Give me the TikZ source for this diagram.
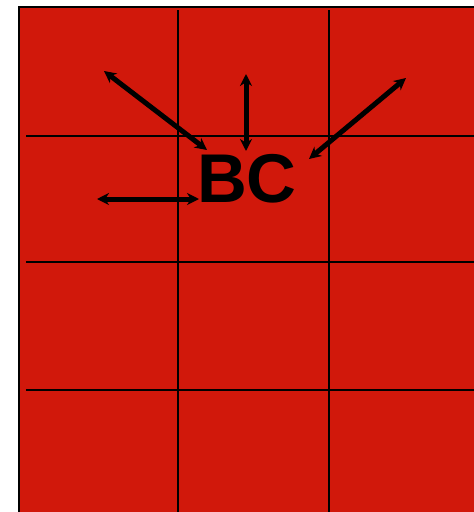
\documentclass[tikz,border=0pt]{standalone}
\usepackage{fontspec}
\setmainfont{Liberation Sans}
\usetikzlibrary{arrows.meta}
\definecolor{bgred}{RGB}{209,24,11}
\tikzset{
  gridline/.style={line width=2.2pt, black},
  dblarrow/.style={line width=5pt, black, {Stealth[length=12pt,width=12pt]}-{Stealth[length=12pt,width=12pt]}},
  bigtext/.style={font=\fontsize{69}{69}\selectfont\bfseries, inner sep=0pt}
}
\begin{document}
\begin{tikzpicture}[x=1pt,y=-1pt]
\useasboundingbox (0,0) rectangle (474,512);
\begin{scope}
\clip (0,0) rectangle (474,512);
\draw[fill=bgred, line width=2.5pt] (19,7) rectangle (480,520);
\draw[gridline] (178,10) -- (178,515);
\draw[gridline] (329,10) -- (329,515);
\draw[gridline] (26,136) -- (478,136);
\draw[gridline] (26,262) -- (478,262);
\draw[gridline] (26,390) -- (478,390);
\end{scope}
\node[bigtext, anchor=base] (bc) at (247,202) {BC};
\coordinate (a1s) at (104,71);
\coordinate (a1e) at (207,150);
\coordinate (a2s) at (246,74);
\coordinate (a2e) at (246,151);
\coordinate (a3s) at (406,78);
\coordinate (a3e) at (309,159);
\coordinate (a4s) at (97,199);
\coordinate (a4e) at (199,199);
\draw[dblarrow] (a1s) -- (a1e);
\draw[dblarrow] (a2s) -- (a2e);
\draw[dblarrow] (a3s) -- (a3e);
\draw[dblarrow] (a4s) -- (a4e);
\end{tikzpicture}
\end{document}
